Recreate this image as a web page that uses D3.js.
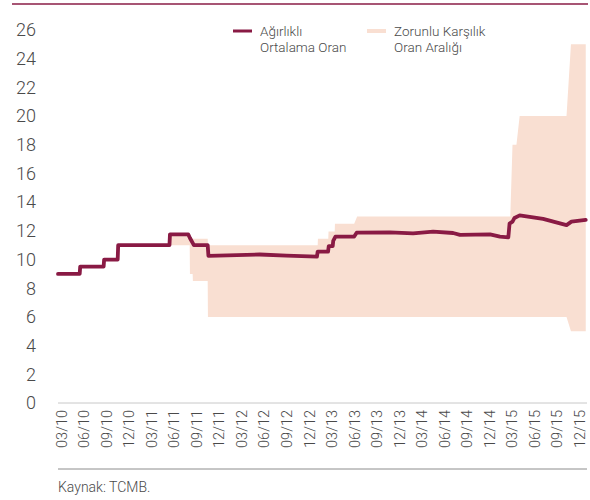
<!DOCTYPE html>
<html>
<head>
<meta charset="utf-8">
<script src="https://cdn.jsdelivr.net/npm/d3@7"></script>
<style>
body { margin: 0; background: #fff; }
text { font-family: Roboto, "DejaVu Sans", sans-serif; font-weight: 300; fill: #4a4a4a; }
</style>
</head>
<body>
<svg width="590" height="500"></svg>
<script>
// agirlikli ortalama oran (line)
const lineDates = ['2010-02-15','2010-05-14','2010-05-16','2010-08-19','2010-08-21','2010-10-15','2010-10-17',
  '2011-05-13','2011-05-15','2011-07-28','2011-08-04','2011-08-20','2011-10-15','2011-10-18',
  '2012-05-13','2012-08-29','2012-12-31','2013-01-03','2013-02-14','2013-02-17','2013-03-05','2013-03-07',
  '2013-03-16','2013-05-31','2013-06-10','2013-10-23','2014-01-25','2014-04-16','2014-07-06','2014-08-03',
  '2014-12-03','2015-01-12','2015-02-15','2015-02-20','2015-03-04','2015-03-12','2015-04-02','2015-07-06',
  '2015-10-09','2015-10-29','2015-12-26'];
const lineValues = [9.0,9.0,9.5,9.5,10.0,10.0,11.0,
  11.0,11.75,11.75,11.5,11.0,11.0,10.25,
  10.35,10.27,10.2,10.55,10.55,10.94,10.94,11.3,
  11.6,11.6,11.87,11.9,11.83,11.94,11.85,11.72,
  11.76,11.6,11.55,12.5,12.64,12.9,13.08,12.83,
  12.4,12.64,12.76];

// zorunlu karsilik oran araligi (band)
const bandDates = ['2011-05-14','2011-08-03','2011-08-04','2011-08-15','2011-08-16','2011-10-15','2011-10-16',
  '2013-01-03','2013-01-04','2013-02-15','2013-02-16','2013-03-13','2013-03-14','2013-05-31','2013-06-12',
  '2015-02-23','2015-03-04','2015-03-20','2015-04-02','2015-10-09','2015-10-27','2015-12-26'];
const bandLow = [11.0,11.0,9.0,9.0,8.5,8.5,6.0,
  6.0,6.0,6.0,6.0,6.0,6.0,6.0,6.0,
  6.0,6.0,6.0,6.0,6.0,5.0,5.0];
const bandHigh = [11.75,11.75,11.45,11.45,11.45,11.45,11.0,
  11.0,11.45,11.45,11.95,11.95,12.5,12.5,13.0,
  13.0,18.0,18.0,20.0,20.0,25.0,25.0];

const yTicks = [0,2,4,6,8,10,12,14,16,18,20,22,24,26];
const xTickLabels = ['03/10','06/10','09/10','12/10','03/11','06/11','09/11','12/11','03/12','06/12','09/12','12/12',
  '03/13','06/13','09/13','12/13','03/14','06/14','09/14','12/14','03/15','06/15','09/15','12/15'];

const parse = d3.timeParse('%Y-%m-%d');
const svg = d3.select('svg');

const x = d3.scaleTime()
  .domain([new Date(2010,1,15), new Date(2015,11,27)])
  .range([58, 586]);
const y = d3.scaleLinear().domain([0,26]).range([403,30]);

// top border
svg.append('line').attr('x1',12).attr('x2',588).attr('y1',4).attr('y2',4)
  .attr('stroke','#8a1c46').attr('stroke-width',1.5);

// band
const band = bandDates.map((d,i) => ({date: parse(d), lo: bandLow[i], hi: bandHigh[i]}));
svg.append('path').datum(band)
  .attr('fill','#f9dfd2')
  .attr('d', d3.area().x(d => x(d.date)).y0(d => y(d.lo)).y1(d => y(d.hi)));

// axis lines
svg.append('line').attr('x1',58).attr('x2',587).attr('y1',y(0)).attr('y2',y(0))
  .attr('stroke','#c8c8c8').attr('stroke-width',1);
svg.append('line').attr('x1',58).attr('x2',587).attr('y1',469).attr('y2',469)
  .attr('stroke','#8c8c8c').attr('stroke-width',1);

// line
const line = lineDates.map((d,i) => ({date: parse(d), v: lineValues[i]}));
svg.append('path').datum(line)
  .attr('fill','none').attr('stroke','#891a44').attr('stroke-width',3.8)
  .attr('stroke-linejoin','round').attr('stroke-linecap','round')
  .attr('d', d3.line().x(d => x(d.date)).y(d => y(d.v)));

// y labels
svg.selectAll('.ylab').data(yTicks).enter().append('text')
  .attr('x',36).attr('y', d => y(d)).attr('dy','0.35em')
  .attr('text-anchor','end').attr('font-size',18).text(d => d);

// x labels (quarter months)
const xt = xTickLabels.map(s => new Date(2000 + +s.slice(3), +s.slice(0,2) - 1, 1));
svg.selectAll('.xlab').data(xt).enter().append('text')
  .attr('transform', (d) => `translate(${x(d)},410) rotate(-90)`)
  .attr('dy','0.35em').attr('text-anchor','end').attr('font-size',14.5)
  .text((d,i) => xTickLabels[i]);

// legend
svg.append('line').attr('x1',233).attr('x2',252).attr('y1',31).attr('y2',31)
  .attr('stroke','#891a44').attr('stroke-width',3);
svg.append('text').attr('x',260).attr('y',36).attr('font-size',13.5).text('Ağırlıklı');
svg.append('text').attr('x',260).attr('y',52).attr('font-size',13.5).text('Ortalama Oran');
svg.append('line').attr('x1',367).attr('x2',386).attr('y1',31).attr('y2',31)
  .attr('stroke','#f9dfd2').attr('stroke-width',4);
svg.append('text').attr('x',394).attr('y',36).attr('font-size',13.5).text('Zorunlu Karşılık');
svg.append('text').attr('x',394).attr('y',52).attr('font-size',13.5).text('Oran Aralığı');

// source
svg.append('text').attr('x',58).attr('y',492).attr('font-size',14).text('Kaynak: TCMB.');
</script>
</body>
</html>
